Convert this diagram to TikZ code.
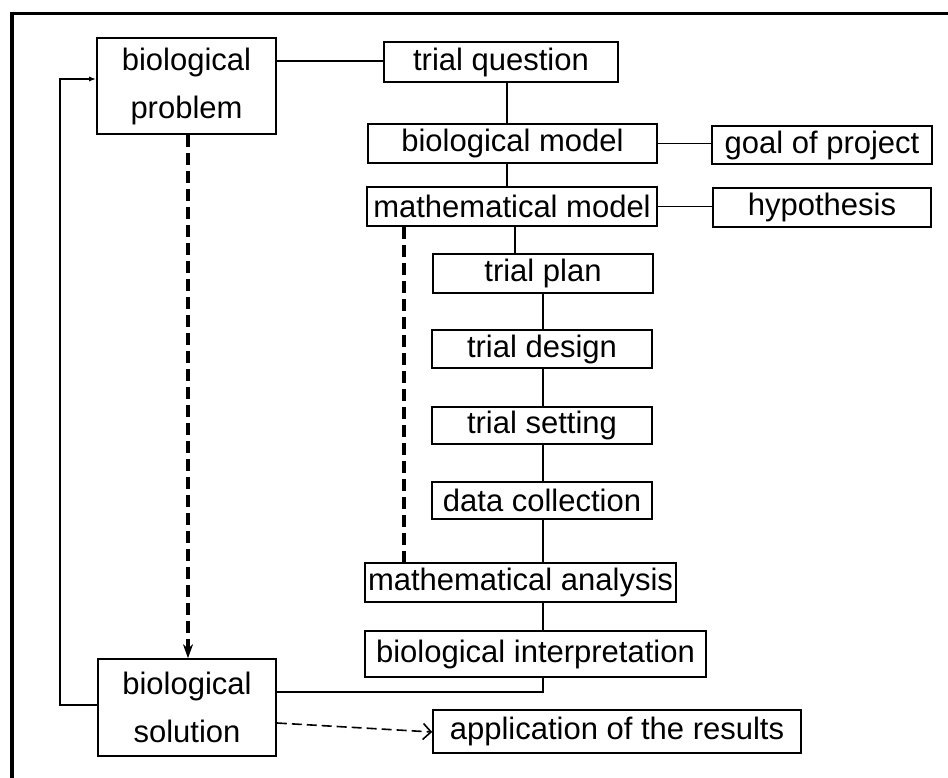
\documentclass[tikz,border=0pt]{standalone}
\usepackage{fontspec}
\setmainfont{Liberation Sans}
\usetikzlibrary{arrows.meta}
\begin{document}
\begin{tikzpicture}[x=1pt,y=-1pt,
  box/.style={draw,line width=1.6pt,inner sep=0pt,align=center,font=\fontsize{31}{48}\selectfont},
  link/.style={line width=1.6pt},
  heavydash/.style={line width=3.8pt,dash pattern=on 12pt off 6pt},
  lightdash/.style={line width=1.6pt,dash pattern=on 10pt off 5pt},
  frame/.style={line width=3.5pt}]
\useasboundingbox (0,0) rectangle (948,778);
% frame
\coordinate (fa) at (12,778);
\coordinate (fb) at (12,13.5);
\coordinate (fc) at (948,13.5);
\draw[frame] (fa) -- (fb) -- (fc);
% nodes
\node[box,minimum width=179pt,minimum height=96pt] (bprob) at (186.5,86) {biological\\problem};
\node[box,minimum width=234pt,minimum height=40pt] (tq) at (501,62) {trial question};
\node[box,minimum width=289pt,minimum height=39pt] (bm) at (512.5,143.5) {biological model};
\node[box,minimum width=220pt,minimum height=38pt] (goal) at (822,145) {goal of project};
\node[box,minimum width=290pt,minimum height=39pt] (mm) at (512,206.5) {mathematical model};
\node[box,minimum width=218pt,minimum height=39pt] (hyp) at (822,207.5) {hypothesis};
\node[box,minimum width=220pt,minimum height=39pt] (tp) at (543,273.5) {trial plan};
\node[box,minimum width=220pt,minimum height=38pt] (td) at (542,349) {trial design};
\node[box,minimum width=220pt,minimum height=37pt] (ts) at (542,425.5) {trial setting};
\node[box,minimum width=220pt,minimum height=37pt] (dc) at (542,500.5) {data collection};
\node[box,minimum width=311pt,minimum height=39pt] (ma) at (520.5,582.5) {mathematical analysis};
\node[box,minimum width=341pt,minimum height=46pt] (bi) at (535.5,654) {biological interpretation};
\node[box,minimum width=178pt,minimum height=97pt] (bsol) at (187,707.5) {biological\\solution};
\node[box,minimum width=368pt,minimum height=43pt] (app) at (617,731.5) {application of the results};
% helper coordinates
\coordinate (c1) at (507,0);
\coordinate (c2) at (515,0);
\coordinate (c3) at (543,0);
\coordinate (c4) at (404,0);
\coordinate (c5) at (188,0);
\coordinate (r1) at (0,61);
\coordinate (r2) at (0,692);
\coordinate (fbx) at (60,0);
\coordinate (fby1) at (0,79);
\coordinate (fby2) at (0,705);
\coordinate (ay1) at (0,723);
\coordinate (ay2) at (0,732);
% connectors
\draw[link] (bprob.east |- r1) -- (tq.west |- r1);
\draw[link] (tq.south -| c1) -- (bm.north -| c1);
\draw[link] (bm.south -| c1) -- (mm.north -| c1);
\draw[link] (bm.east) -- (goal.west |- bm.east);
\draw[link] (mm.east) -- (hyp.west |- mm.east);
\draw[link] (mm.south -| c2) -- (tp.north -| c2);
\draw[link] (tp.south -| c3) -- (td.north -| c3);
\draw[link] (td.south -| c3) -- (ts.north -| c3);
\draw[link] (ts.south -| c3) -- (dc.north -| c3);
\draw[link] (dc.south -| c3) -- (ma.north -| c3);
\draw[link] (ma.south -| c3) -- (bi.north -| c3);
\draw[link] (bi.south -| c3) |- (bsol.east |- r2);
\draw[heavydash] (mm.south -| c4) -- (ma.north -| c4);
\draw[heavydash,-{Stealth[length=14pt,width=10pt]}] (bprob.south -| c5) -- (bsol.north -| c5);
\draw[link,-{Latex[length=7pt,width=5pt]}] (bsol.west |- fby2) -| (fbx |- fby1) -- (bprob.west |- fby1);
\draw[lightdash,-{Straight Barb[length=8pt,width=16pt,line width=1.6pt]}] (bsol.east |- ay1) -- (app.west |- ay2);
\end{tikzpicture}
\end{document}
